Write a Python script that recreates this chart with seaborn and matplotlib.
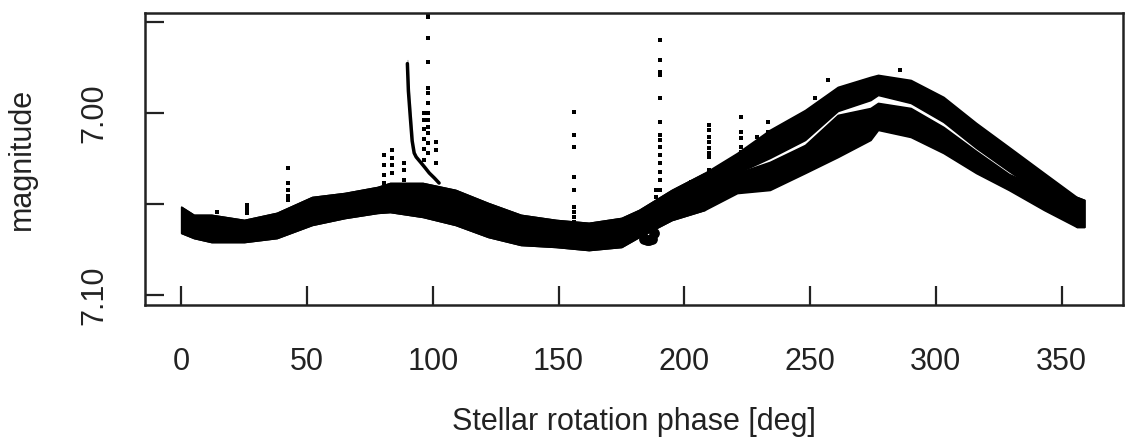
import numpy as np
import pandas as pd
import matplotlib
matplotlib.use('Agg')
import matplotlib.pyplot as plt
import seaborn as sns

# =============================================================================
# Data (phase in deg, magnitude)
# =============================================================================

# envelope of the dense point cloud: upper (brighter) band and lower band
band_phase = [0, 5, 12, 25, 38, 52, 65, 78, 83, 96, 109, 122, 135, 149, 162,
              175, 182, 195, 208, 221, 234, 248, 261, 274, 277, 290, 303, 316,
              329, 343, 356, 359]
upper_top = [7.0516, 7.0560, 7.0560, 7.0588, 7.0549, 7.0462, 7.0440, 7.0407,
             7.0385, 7.0385, 7.0423, 7.0495, 7.0560, 7.0588, 7.0604, 7.0577,
             7.0533, 7.0423, 7.0330, 7.0220, 7.0093, 6.9984, 6.9857, 6.9802,
             6.9791, 6.9819, 6.9912, 7.0055, 7.0187, 7.0330, 7.0462, 7.0478]
upper_bot = [7.0659, 7.0687, 7.0709, 7.0709, 7.0687, 7.0615, 7.0577, 7.0549,
             7.0544, 7.0571, 7.0615, 7.0681, 7.0725, 7.0736, 7.0753, 7.0736,
             7.0681, 7.0588, 7.0533, 7.0330, 7.0247, 7.0148, 6.9989, 6.9929,
             6.9901, 6.9945, 7.0049, 7.0192, 7.0319, 7.0451, 7.0626, 7.0626]
lower_top = [7.0516, 7.0560, 7.0560, 7.0588, 7.0549, 7.0462, 7.0440, 7.0407,
             7.0385, 7.0385, 7.0423, 7.0495, 7.0560, 7.0588, 7.0604, 7.0577,
             7.0533, 7.0423, 7.0330, 7.0330, 7.0269, 7.0176, 7.0011, 6.9973,
             6.9945, 6.9973, 7.0077, 7.0209, 7.0335, 7.0423, 7.0462, 7.0478]
lower_bot = [7.0659, 7.0687, 7.0709, 7.0709, 7.0687, 7.0615, 7.0577, 7.0549,
             7.0544, 7.0571, 7.0615, 7.0681, 7.0725, 7.0736, 7.0753, 7.0736,
             7.0681, 7.0588, 7.0533, 7.0440, 7.0423, 7.0330, 7.0242, 7.0148,
             7.0093, 7.0132, 7.0220, 7.0330, 7.0423, 7.0533, 7.0626, 7.0626]

# flare near phase 90 and its decay back into the band
flare_phase = [89.9, 89.9, 89.9, 90.3, 90.3, 90.3, 91.1, 91.1, 91.1, 91.8,
               91.8, 91.8, 92.6, 93.4, 95.4, 97.0, 98.6, 100.6, 102.5]
flare_mag = [6.9709, 6.9731, 6.9747, 6.9835, 6.9874, 6.9929, 6.9984, 7.0027,
             7.0077, 7.0110, 7.0148, 7.0203, 7.0220, 7.0242, 7.0275, 7.0302,
             7.0330, 7.0357, 7.0385]

# isolated outliers / short spikes
spike_phase = [98.2, 98.2, 98.2, 98.2, 98.2, 98.2, 98.2, 98.2, 98.2, 98.2,
               98.2, 98.2, 98.2,
               96.6, 96.6, 96.6, 96.6, 96.6, 96.6,
               101.3, 101.3, 101.3,
               80.8, 80.8, 80.8, 80.8,
               83.9, 83.9, 83.9, 83.9,
               88.7, 88.7, 88.7,
               42.4, 42.4, 42.4, 42.4, 42.4,
               26.1, 26.1, 26.1, 14.3,
               156.0, 156.0, 156.0, 156.0, 156.0, 156.0, 156.0, 156.0, 156.0,
               190.4, 190.4, 190.4, 190.4, 190.4, 190.4, 190.4, 190.4, 190.4,
               190.4, 190.4, 190.4, 190.4, 190.4, 190.4,
               188.8, 188.8,
               209.8, 209.8, 209.8, 209.8, 209.8, 209.8, 209.8, 209.8, 209.8,
               209.8,
               222.5, 222.5, 222.5, 222.5, 222.5, 222.5, 222.5,
               233.2, 233.2, 228.8, 257.3, 251.8, 202.7, 285.8]
spike_mag = [6.9462, 6.9473, 6.9588, 6.9720, 6.9863, 6.9890, 6.9945, 7.0000,
             7.0038, 7.0077, 7.0110, 7.0165, 7.0220,
             7.0000, 7.0038, 7.0088, 7.0143, 7.0198, 7.0258,
             7.0159, 7.0203, 7.0275,
             7.0231, 7.0286, 7.0341, 7.0385,
             7.0203, 7.0247, 7.0286, 7.0330,
             7.0275, 7.0313, 7.0368,
             7.0302, 7.0385, 7.0423, 7.0456, 7.0478,
             7.0505, 7.0527, 7.0549, 7.0544,
             6.9995, 7.0121, 7.0187, 7.0352, 7.0423, 7.0516, 7.0544, 7.0571,
             7.0599,
             6.9599, 6.9709, 6.9775, 6.9791, 6.9918, 7.0049, 7.0121, 7.0148,
             7.0187, 7.0231, 7.0275, 7.0324, 7.0368, 7.0423, 7.0478,
             7.0423, 7.0462,
             7.0066, 7.0093, 7.0132, 7.0159, 7.0192, 7.0220, 7.0242, 7.0313,
             7.0341, 7.0368,
             7.0022, 7.0104, 7.0137, 7.0187, 7.0214, 7.0242, 7.0258,
             7.0049, 7.0104, 7.0132, 6.9819, 6.9918, 7.0379, 6.9764]

# small dip below the band near phase 185
dip_phase = [183, 184, 185, 186, 187, 188]
dip_mag = [7.0660, 7.0690, 7.0700, 7.0700, 7.0690, 7.0660]

x_ticks = [0, 50, 100, 150, 200, 250, 300, 350]
y_ticks = [6.95, 7.00, 7.05, 7.10]
y_tick_labels = ['', '7.00', '', '7.10']

# =============================================================================
# Plot
# =============================================================================

sns.set_style('ticks')
plt.rcParams['font.family'] = ['Liberation Sans', 'DejaVu Sans']

fig = plt.figure(figsize=(11.33, 4.41), dpi=100)
ax = fig.add_axes([0.128, 0.3084, 0.8632, 0.6621])

# dense point cloud drawn as its envelope
ax.fill_between(band_phase, upper_top, upper_bot, color='black', lw=1.2)
ax.fill_between(band_phase, lower_top, lower_bot, color='black', lw=1.2)

flare = pd.DataFrame({'phase': flare_phase, 'mag': flare_mag})
sns.lineplot(x='phase', y='mag', data=flare, sort=False, color='black',
             lw=2.5, ax=ax)

spikes = pd.DataFrame({'phase': spike_phase, 'mag': spike_mag})
sns.scatterplot(x='phase', y='mag', data=spikes, color='black', s=6,
                marker='s', linewidth=0, ax=ax)

dip = pd.DataFrame({'phase': dip_phase, 'mag': dip_mag})
sns.scatterplot(x='phase', y='mag', data=dip, color='black', s=60,
                linewidth=0, ax=ax)

ax.set_xlim(-14.4, 374.4)
ax.set_ylim(7.1055, 6.9451)

ax.set_xticks(x_ticks)
ax.set_xticklabels([str(t) for t in x_ticks])
ax.set_yticks(y_ticks)
ax.set_yticklabels(y_tick_labels, rotation=90, va='center')

ax.tick_params(axis='both', direction='in', length=14, width=1.6,
               color='#222222', labelsize=22, labelcolor='#222222')
ax.tick_params(axis='x', pad=30)
ax.tick_params(axis='y', pad=26)

for s in ax.spines.values():
    s.set_linewidth(1.8)
    s.set_color('#222222')

ax.set_xlabel('Stellar rotation phase [deg]', fontsize=22, color='#222222',
              labelpad=22)
ax.set_ylabel('magnitude', fontsize=22, color='#222222', labelpad=30)

fig.savefig('out.png', dpi=100)
